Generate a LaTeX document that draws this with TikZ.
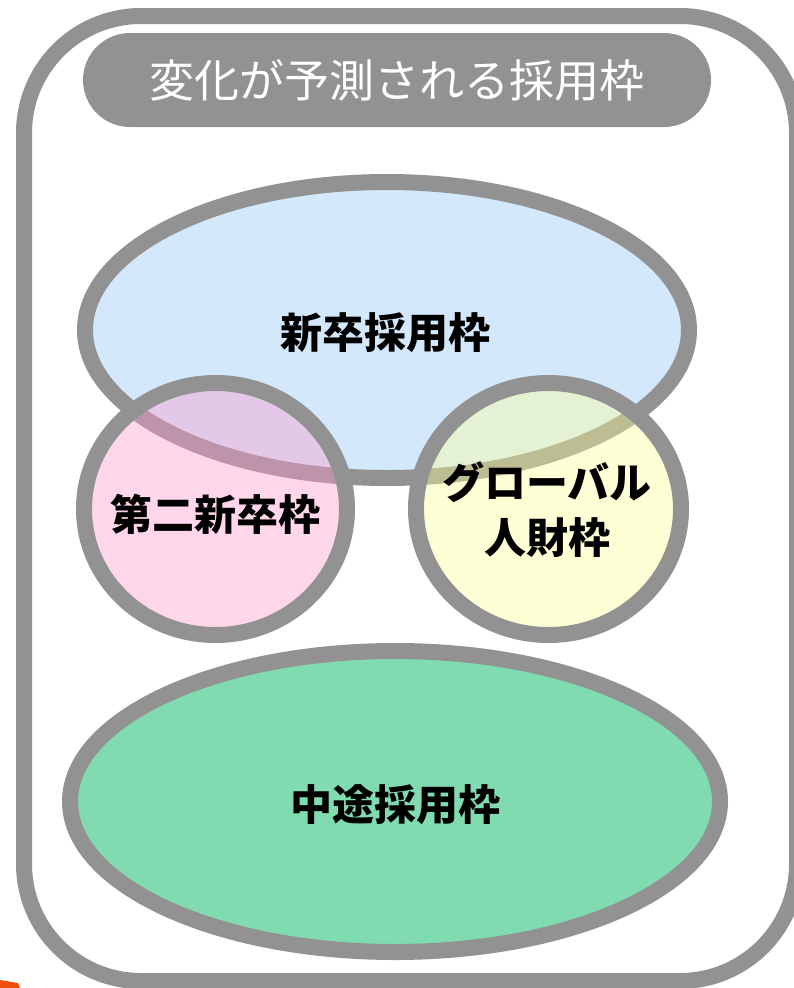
\documentclass[tikz,border=0pt]{standalone}
\usepackage{fontspec}
\newfontfamily\jp{Noto Sans CJK JP}
\usetikzlibrary{shapes.geometric}
\definecolor{framegray}{HTML}{929292}
\definecolor{blueset}{HTML}{D3E8FB}
\definecolor{pinkset}{HTML}{FF99CC}
\definecolor{yellowset}{HTML}{FFFF99}
\definecolor{greenset}{HTML}{80DBB0}
\definecolor{orangemark}{HTML}{F04E0E}
\tikzset{
  setshape/.style={ellipse, draw=framegray, line width=16pt, inner sep=0pt, outer sep=0pt},
  setlabel/.style={font=\jp\bfseries\fontsize{42}{55}\selectfont, text=black, align=center, inner sep=0pt},
  titlebox/.style={rectangle, rounded corners=47pt, fill=framegray, inner sep=0pt,
    minimum width=628pt, minimum height=94pt, text=white, font=\jp\fontsize{45}{50}\selectfont},
}
\begin{document}
\begin{tikzpicture}[x=1pt,y=-1pt]
\useasboundingbox (0,0) rectangle (794,988);
\clip (0,0) rectangle (794,988);
\fill[white] (0,0) rectangle (794,988);
% outer frame
\draw[framegray, line width=16pt, rounded corners=117pt] (24,16) rectangle (797,981);
% title pill
\node[titlebox] (title) at (397,80) {変化が予測される採用枠};
% new graduate ellipse
\node[setshape, fill=blueset, minimum width=604pt, minimum height=296pt] (shinsotsu) at (387,330) {};
% second new graduate circle
\node[setshape, fill=pinkset, fill opacity=0.4, draw opacity=1, minimum width=263pt, minimum height=252pt] (daini) at (215.5,509) {};
% global talent circle
\node[setshape, fill=yellowset, fill opacity=0.4, draw opacity=1, minimum width=265pt, minimum height=252pt] (global) at (548.5,509) {};
% mid-career ellipse
\node[setshape, fill=greenset, minimum width=650pt, minimum height=301pt] (chuto) at (395,801.5) {};
% labels
\node[setlabel] (l1) at (385,333) {新卒採用枠};
\node[setlabel] (l2) at (215.5,514) {第二新卒枠};
\node[setlabel] (l3) at (547,510) {グローバル\\人財枠};
\node[setlabel] (l4) at (395,805) {中途採用枠};
% small orange mark at the lower left edge
\fill[orangemark] (0,980) -- (18,983) -- (20,988) -- (0,988) -- cycle;
\end{tikzpicture}
\end{document}
